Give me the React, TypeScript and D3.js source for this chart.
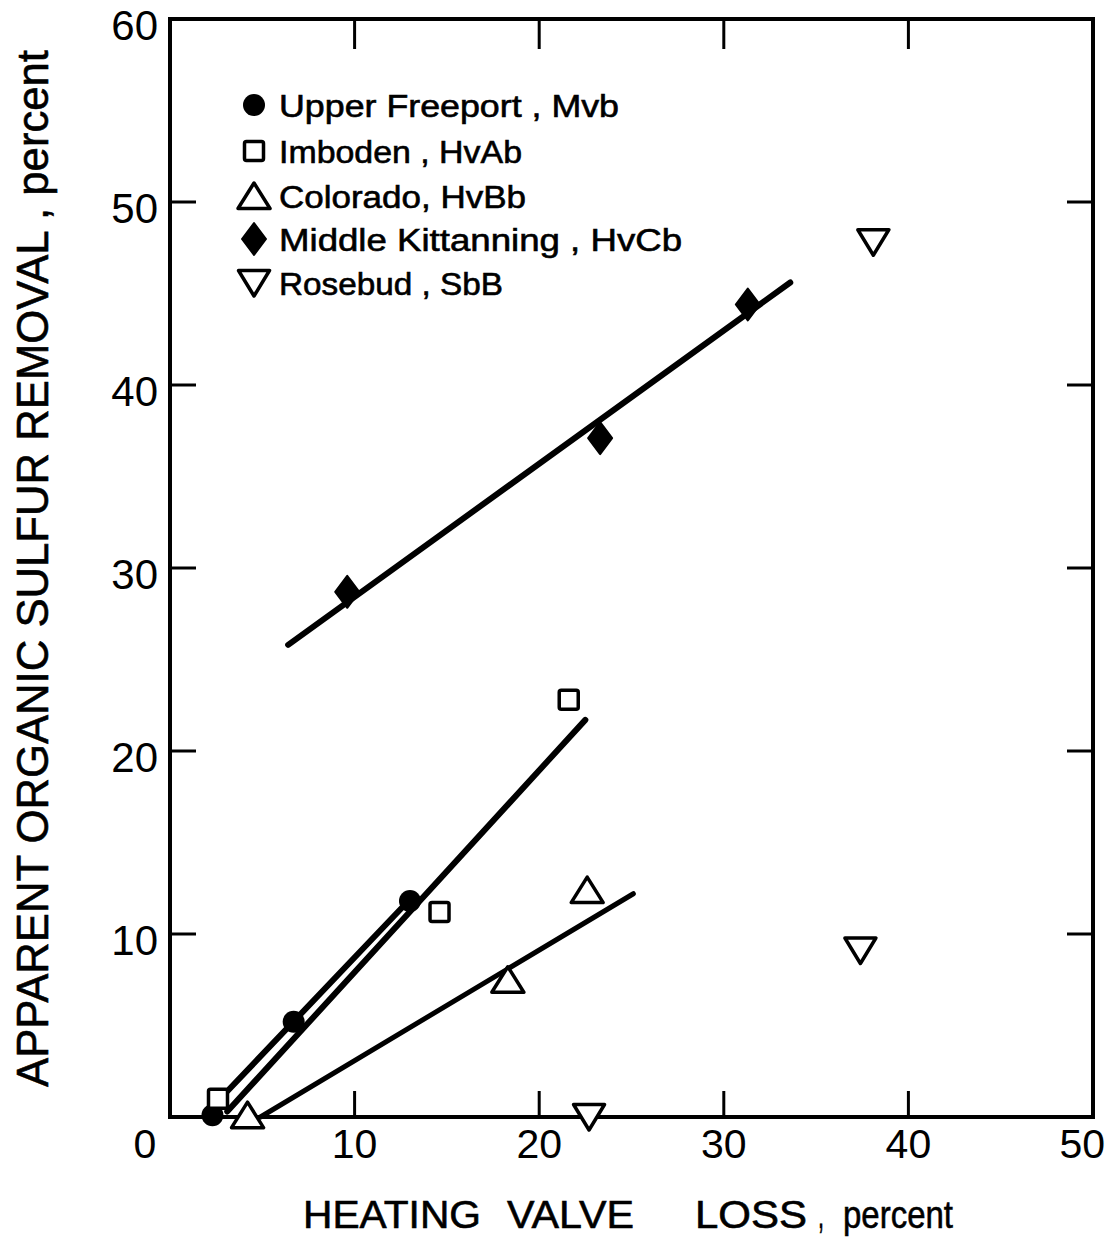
import React from "react";
import * as d3 from "d3";

// ---------- data ----------
const xTicks = [0, 10, 20, 30, 40, 50];
const yTicks = [0, 10, 20, 30, 40, 50, 60];

const upperFreeportX = [2.3, 6.7, 13.0];
const upperFreeportY = [0.1, 5.2, 11.8];

const imbodenX = [2.6, 14.6, 21.6];
const imbodenY = [1.0, 11.2, 22.8];

const coloradoX = [4.2, 18.3, 22.6];
const coloradoY = [0.1, 7.5, 12.4];

const kittanningX = [9.6, 23.3, 31.3];
const kittanningY = [28.7, 37.1, 44.4];

const rosebudX = [22.7, 37.4, 38.1];
const rosebudY = [0.0, 9.1, 47.8];

// fitted lines (end points, data units)
const upperFreeportLineX = [3.0, 13.0];
const upperFreeportLineY = [1.3, 11.9];
const imbodenLineX = [3.1, 22.5];
const imbodenLineY = [0.3, 21.7];
const coloradoLineX = [4.9, 25.1];
const coloradoLineY = [0.0, 12.2];
const kittanningLineX = [6.4, 33.6];
const kittanningLineY = [25.8, 45.6];

const legendLabels = [
  "Upper Freeport , Mvb",
  "Imboden , HvAb",
  "Colorado, HvBb",
  "Middle Kittanning , HvCb",
  "Rosebud , SbB",
];
const legendSymbols = ["circle", "square", "triangle", "diamond", "invtriangle"];

const xTitleWords = ["HEATING", "VALVE", "LOSS", ",", "percent"];
const yTitle = "APPARENT ORGANIC SULFUR REMOVAL , percent";

// ---------- layout ----------
const W = 1117;
const H = 1241;
const FONT = "'Liberation Sans', Arial, sans-serif";

const x = d3.scaleLinear().domain([0, 50]).range([170, 1093]);
const y = d3.scaleLinear().domain([0, 60]).range([1117, 19]);

function Marker({ kind, cx, cy }: { kind: string; cx: number; cy: number }) {
  const sw = 3.5;
  if (kind === "circle") return <circle cx={cx} cy={cy} r={11} fill="#000" />;
  if (kind === "square")
    return (
      <rect x={cx - 9.5} y={cy - 9.5} width={19} height={19} rx={2} fill="#fff" stroke="#000" strokeWidth={sw} />
    );
  if (kind === "triangle") {
    const p = d3.path();
    p.moveTo(cx, cy - 13);
    p.lineTo(cx + 16, cy + 12.5);
    p.lineTo(cx - 16, cy + 12.5);
    p.closePath();
    return <path d={p.toString()} fill="#fff" stroke="#000" strokeWidth={sw} strokeLinejoin="round" />;
  }
  if (kind === "invtriangle") {
    const p = d3.path();
    p.moveTo(cx, cy + 13);
    p.lineTo(cx + 15.5, cy - 12.5);
    p.lineTo(cx - 15.5, cy - 12.5);
    p.closePath();
    return <path d={p.toString()} fill="#fff" stroke="#000" strokeWidth={sw} strokeLinejoin="round" />;
  }
  // diamond
  const p = d3.path();
  p.moveTo(cx, cy - 16);
  p.lineTo(cx + 12, cy);
  p.lineTo(cx, cy + 16);
  p.lineTo(cx - 12, cy);
  p.closePath();
  return <path d={p.toString()} fill="#000" stroke="#000" strokeWidth={2} strokeLinejoin="round" />;
}

const lineGen = d3
  .line<[number, number]>()
  .x((d) => x(d[0]))
  .y((d) => y(d[1]));

function zip(a: number[], b: number[]): [number, number][] {
  return a.map((v, i) => [v, b[i]]);
}

export default function App() {
  const series = [
    { kind: "circle", xs: upperFreeportX, ys: upperFreeportY },
    { kind: "square", xs: imbodenX, ys: imbodenY },
    { kind: "triangle", xs: coloradoX, ys: coloradoY },
    { kind: "diamond", xs: kittanningX, ys: kittanningY },
    { kind: "invtriangle", xs: rosebudX, ys: rosebudY },
  ];
  const fits = [
    { xs: upperFreeportLineX, ys: upperFreeportLineY, w: 6 },
    { xs: imbodenLineX, ys: imbodenLineY, w: 6 },
    { xs: coloradoLineX, ys: coloradoLineY, w: 5 },
    { xs: kittanningLineX, ys: kittanningLineY, w: 6 },
  ];
  const tickLen = 26;
  const legendWidths = [340, 243, 247, 403, 224];
  const legendRowY = [105, 151, 196, 239, 283];
  const xTitleX = [303, 507, 695, 818, 843];
  const xTitleLen = [178, 127, 112, 6, 110];
  const textStroke = { stroke: "#000", strokeWidth: 0.6 };

  return (
    <svg
      width={W}
      height={H}
      viewBox={`0 0 ${W} ${H}`}
      style={{ position: "absolute", left: 0, top: 0, display: "block", background: "#fff" }}
    >
      <rect width={W} height={H} fill="#fff" />

      {/* ticks (inward on all sides) */}
      {xTicks.slice(1, -1).map((t) => (
        <g key={"xt" + t}>
          <line x1={x(t)} x2={x(t)} y1={y(0)} y2={y(0) - tickLen} stroke="#000" strokeWidth={3} />
          <line x1={x(t)} x2={x(t)} y1={y(60)} y2={y(60) + tickLen + 4} stroke="#000" strokeWidth={3} />
        </g>
      ))}
      {yTicks.slice(1, -1).map((t) => (
        <g key={"yt" + t}>
          <line x1={x(0)} x2={x(0) + tickLen} y1={y(t)} y2={y(t)} stroke="#000" strokeWidth={3} />
          <line x1={x(50)} x2={x(50) - tickLen} y1={y(t)} y2={y(t)} stroke="#000" strokeWidth={3} />
        </g>
      ))}

      {/* frame */}
      <rect
        x={x(0)}
        y={y(60)}
        width={x(50) - x(0)}
        height={y(0) - y(60)}
        fill="none"
        stroke="#000"
        strokeWidth={4}
      />

      {/* tick labels */}
      {yTicks.slice(1).map((t) => (
        <text
          key={"yl" + t}
          x={x(0) - 12}
          y={y(t) + 21}
          textAnchor="end"
          fontFamily={FONT}
          fontSize={42}
          fill="#000"
        >
          {t}
        </text>
      ))}
      {xTicks.map((t) => {
        let anchor: "middle" | "end" = "middle";
        let px = x(t);
        if (t === 0) px = x(t) - 25;
        if (t === 50) {
          anchor = "end";
          px = x(t) + 12;
        }
        return (
          <text
            key={"xl" + t}
            x={px}
            y={y(0) + 41}
            textAnchor={anchor}
            fontFamily={FONT}
            fontSize={41}
            fill="#000"
          >
            {t}
          </text>
        );
      })}

      {/* axis titles */}
      <text fontFamily={FONT} fontSize={39} fill="#000" y={1228} {...textStroke}>
        {xTitleWords.map((w, i) => (
          <tspan key={w + i} x={xTitleX[i]} textLength={xTitleLen[i]} lengthAdjust="spacingAndGlyphs">
            {w}
          </tspan>
        ))}
      </text>
      <text
        transform="translate(48,1087) rotate(-90)"
        fontFamily={FONT}
        fontSize={45}
        fill="#000"
        textLength={1037}
        lengthAdjust="spacingAndGlyphs"
        {...textStroke}
      >
        {yTitle}
      </text>

      {/* fitted lines */}
      {fits.map((f, i) => (
        <path
          key={"fit" + i}
          d={lineGen(zip(f.xs, f.ys)) || ""}
          fill="none"
          stroke="#000"
          strokeWidth={f.w}
          strokeLinecap="round"
        />
      ))}

      {/* data points */}
      {series.map((s) =>
        s.xs.map((v, i) => <Marker key={s.kind + i} kind={s.kind} cx={x(v)} cy={y(s.ys[i])} />)
      )}

      {/* legend */}
      {legendLabels.map((lab, i) => (
        <g key={"lg" + i}>
          <Marker kind={legendSymbols[i]} cx={254} cy={legendRowY[i]} />
          <text
            x={279}
            y={legendRowY[i] + 12}
            fontFamily={FONT}
            fontSize={31}
            fill="#000"
            textLength={legendWidths[i]}
            lengthAdjust="spacingAndGlyphs"
            {...textStroke}
          >
            {lab}
          </text>
        </g>
      ))}
    </svg>
  );
}
